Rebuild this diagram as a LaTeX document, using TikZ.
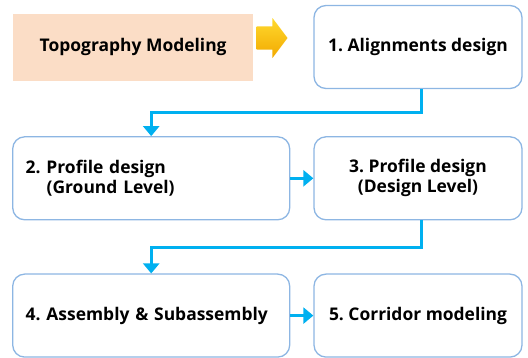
\documentclass[tikz,border=0pt]{standalone}
\usepackage{fontspec}
\setmainfont{Open Sans}
\usepackage{tikz}
\usetikzlibrary{positioning}
\usetikzlibrary{shapes.arrows}
\usetikzlibrary{arrows.meta}
\definecolor{boxline}{HTML}{8DB6E3}
\definecolor{flowblue}{HTML}{00B0F0}
\definecolor{peach}{HTML}{FBDDC6}
\definecolor{goldtop}{HTML}{FFD92E}
\definecolor{goldbot}{HTML}{F2A900}
\frenchspacing

\begin{document}
\begin{tikzpicture}
          [every node/.style={font=\fontsize{17.5}{20}\selectfont\bfseries},
           stage/.style={draw=boxline, line width=1.3pt, rounded corners=12bp,
                         fill=white, minimum height=83bp},
           wide/.style={stage, inner xsep=13bp, text width=251bp, align=left},
           narrow/.style={stage, minimum width=208bp, align=center},
           flow/.style={draw=flowblue, line width=3bp,
                        -{Triangle[width=16bp,length=10bp]}}]
          \useasboundingbox (0,0) rectangle (528bp,-358bp);

          \node (align) [narrow] at (418bp,-47bp) {1. Alignments design};
          \node (topo) [left = 60bp of align, fill=peach, minimum width=240bp,
                        minimum height=67bp] {Topography Modeling};
          \node (push) [single arrow, right = 3bp of topo, yshift=9bp,
                        top color=goldtop, bottom color=goldbot,
                        inner xsep=0pt, inner ysep=9.5bp,
                        minimum width=40bp, minimum height=31bp,
                        single arrow tip angle=106] {};

          \node (design) [narrow, below = 47bp of align] {3. Profile design\\(Design Level)};
          \node (ground) [wide, left = 23bp of design] {2. Profile design\\\hspace*{1.2em}(Ground Level)};
          \node (corridor) [narrow, below = 53bp of design] {5. Corridor modeling};
          \node (assembly) [wide, left = 23bp of corridor] {4. Assembly \& Subassembly};

          \draw[flow] ([xshift=3bp]align.south) -- ++(0,-23bp) -| (ground.north);
          \draw[flow] (ground) -- (design);
          \draw[flow] ([xshift=3bp]design.south) -- ++(0,-27bp) -| (assembly.north);
          \draw[flow] (assembly) -- (corridor);

        \end{tikzpicture}
\end{document}
